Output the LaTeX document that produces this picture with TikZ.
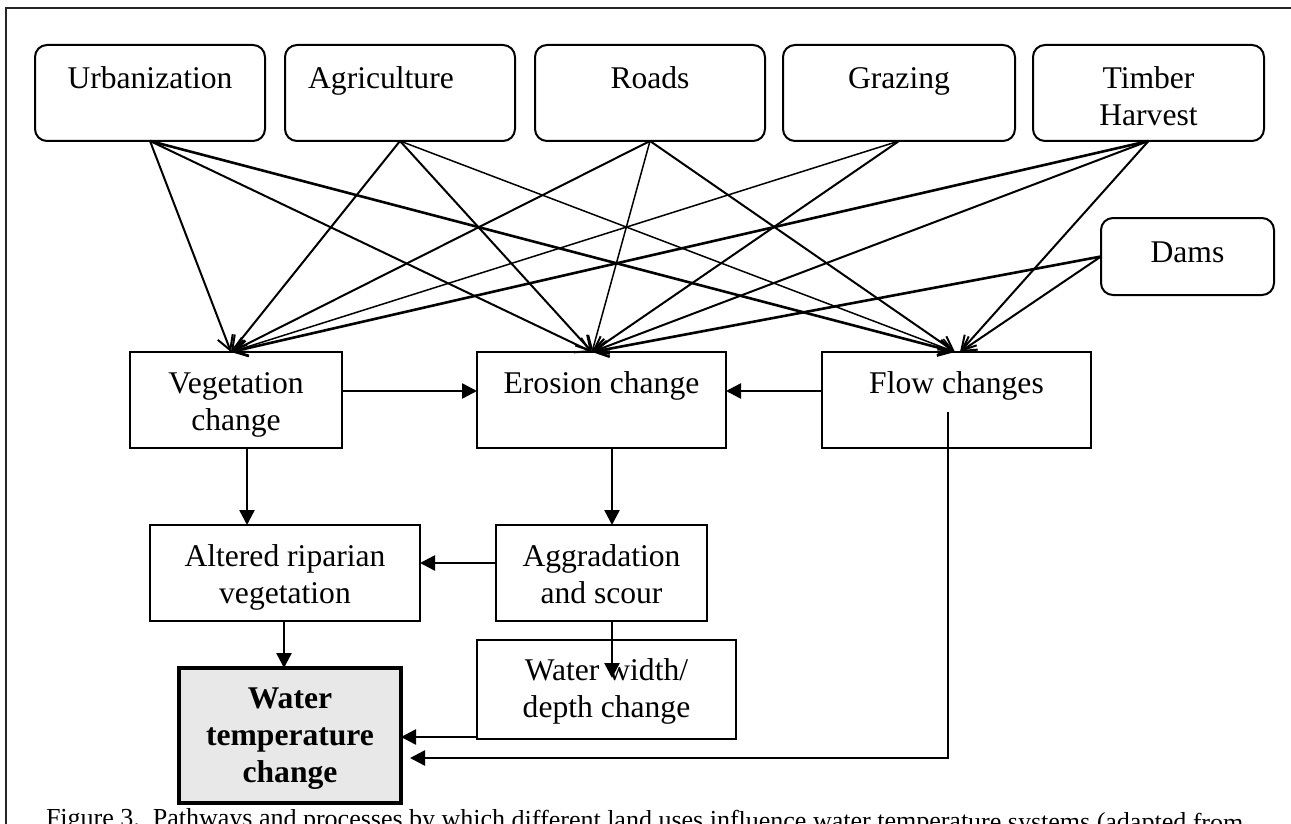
\documentclass[tikz,border=0pt]{standalone}
\usepackage{fontspec}
\setmainfont{Liberation Serif}
\usetikzlibrary{arrows.meta}
\newcommand{\bxt}[4]{\parbox[c][#2][t]{#1}{\centering\rule{0pt}{#3}#4\par}}
\begin{document}
\begin{tikzpicture}[x=0.5pt,y=-0.5pt,
  every node/.style={inner sep=0pt, outer sep=0pt},
  txt/.style={font=\fontsize{15.8}{18.5}\selectfont},
  rbox/.style={draw, line width=1pt, rounded corners=6pt, txt},
  sbox/.style={draw, line width=1pt, txt},
  fan/.style={line width=1pt, -{Straight Barb[length=7pt,width=8pt]}},
  thinfan/.style={fan, line width=0.75pt},
  thickfan/.style={fan, line width=1.3pt},
  flowarr/.style={line width=1.25pt, -{Triangle[length=7.5pt,width=7.5pt]}},
]
\useasboundingbox (0,0) rectangle (1291,824);
\begin{scope}
\clip (0,0) rectangle (1291,824);
\draw[line width=1pt, black!85] (6,860) -- (6,8) -- (1320,8);
\node[anchor=base west, font=\fontsize{13}{15}\selectfont, rotate=-0.25] (cap) at (46,826)
  {Figure 3.\ \ Pathways and processes by which different land uses influence water temperature systems (adapted from};
\end{scope}

% top row
\node[rbox] (urb) at (150,93) {\bxt{115pt}{48pt}{22pt}{Urbanization}};
\node[rbox] (agr) at (400,93) {\bxt{115pt}{48pt}{22pt}{Agriculture\kern19pt}};
\node[rbox] (rds) at (650,93) {\bxt{115pt}{48pt}{22pt}{Roads}};
\node[rbox] (grz) at (899,93) {\bxt{116pt}{48pt}{22pt}{Grazing}};
\node[rbox] (tim) at (1148.5,93) {\bxt{115.5pt}{48pt}{22pt}{Timber\\Harvest}};
\node[rbox] (dam) at (1187.5,256.5) {\bxt{86.5pt}{38.5pt}{22pt}{Dams}};

% middle row
\node[sbox] (veg) at (236,400) {\bxt{106pt}{48pt}{20.5pt}{Vegetation\\change}};
\node[sbox] (ero) at (601.5,400) {\bxt{124.5pt}{48pt}{20.5pt}{Erosion change}};
\node[sbox] (flw) at (956.5,400) {\bxt{134.5pt}{48pt}{20.5pt}{Flow changes}};

% third row
\node[sbox] (alt) at (285,573) {\bxt{135pt}{48pt}{20.5pt}{Altered riparian\\vegetation}};
\node[sbox] (agg) at (601.5,573) {\bxt{105.5pt}{48pt}{20.5pt}{Aggradation\\and scour}};

% bottom
\node[sbox] (ww) at (606.5,689.5) {\bxt{129.5pt}{49.5pt}{20pt}{Water width/\\depth change}};
\node[draw, line width=1.8pt, fill=black!9, txt, font=\fontsize{15.8}{18.5}\selectfont\bfseries] (wt) at (290,735.5)
  {\bxt{111pt}{67.5pt}{20pt}{Water\\temperature\\change}};

% fan arrows
\draw[fan]      (urb.south) -- ([xshift=-2.5pt]veg.north);
\draw[fan]      (urb.south) -- ([xshift=-4.75pt]ero.north);
\draw[thickfan] (urb.south) -- ([xshift=-0.75pt]flw.north);
\draw[fan]      (agr.south) -- ([xshift=-2.5pt]veg.north);
\draw[fan]      (agr.south) -- ([xshift=-4.75pt]ero.north);
\draw[thinfan]  (agr.south) -- ([xshift=-0.75pt]flw.north);
\draw[fan]      (rds.south) -- ([xshift=-2.5pt]veg.north);
\draw[thinfan]  (rds.south) -- ([xshift=-4.75pt]ero.north);
\draw[fan]      (rds.south) -- ([xshift=-0.75pt]flw.north);
\draw[thinfan]  (grz.south) -- ([xshift=-2.5pt]veg.north);
\draw[fan]      (grz.south) -- ([xshift=-4.75pt]ero.north);
\draw[thickfan] (tim.south) -- ([xshift=-2.5pt]veg.north);
\draw[fan]      (tim.south) -- ([xshift=-4.75pt]ero.north);
\draw[fan]      (tim.south) -- ([xshift=1.75pt]flw.north);
\draw[thickfan] (dam.west) -- ([xshift=-4.75pt]ero.north);
\draw[fan]      (dam.west) -- ([xshift=1.75pt]flw.north);

% process arrows
\draw[flowarr] (veg.east |- 0,391) -- (ero.west |- 0,391);
\draw[flowarr] (flw.west |- 0,391) -- (ero.east |- 0,391);
\draw[flowarr] (veg.south -| 247,0) -- (alt.north -| 247,0);
\draw[flowarr] (ero.south -| 612,0) -- (agg.north -| 612,0);
\draw[flowarr] (agg.west |- 0,563) -- (alt.east |- 0,563);
\draw[flowarr] (alt.south -| 284,0) -- (wt.north -| 284,0);
\coordinate (aggtip) at (612,678);
\draw[flowarr] (agg.south -| 612,0) -- (aggtip);
\draw[flowarr] (ww.west |- 0,737) -- (wt.east |- 0,737);
\coordinate (flwstart) at (948,412);
\coordinate (flwcorner) at (948,758);
\coordinate (wtgap) at (410,758);
\draw[flowarr] (flwstart) -- (flwcorner) -- (wtgap);
\end{tikzpicture}
\end{document}
